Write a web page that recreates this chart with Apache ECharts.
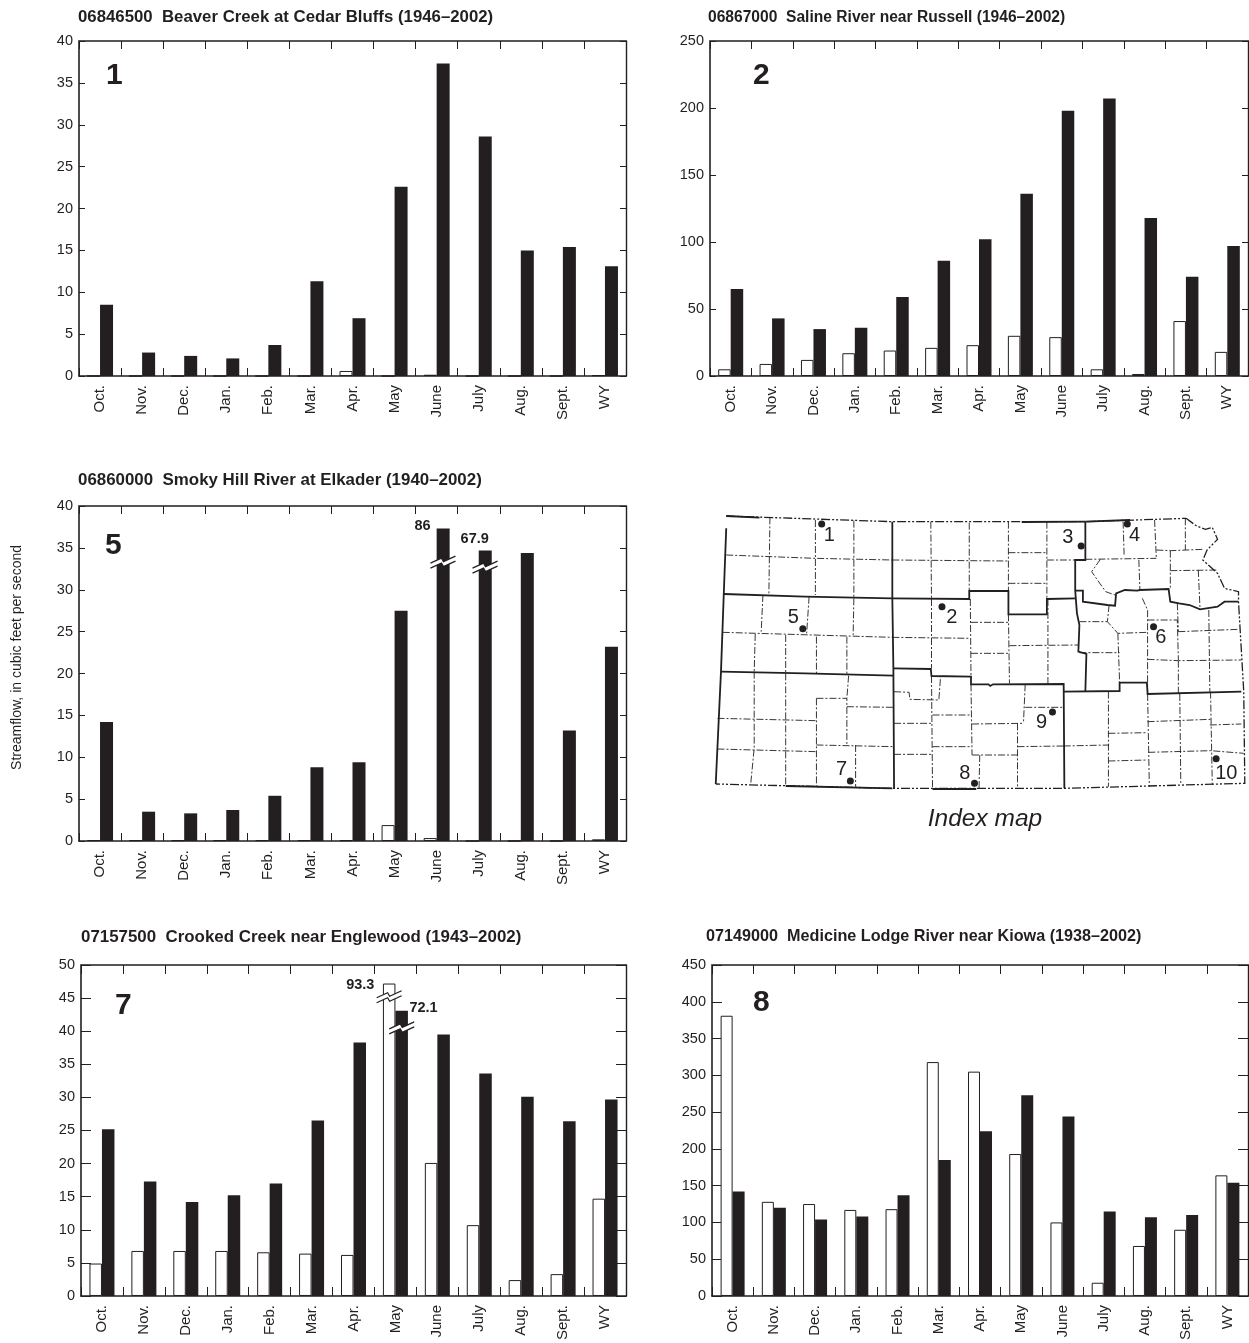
<!DOCTYPE html>
<html><head><meta charset="utf-8">
<script src="https://cdn.jsdelivr.net/npm/echarts@6/dist/echarts.min.js"></script>
<style>html,body{margin:0;padding:0;background:#fff}#c{width:1249px;height:1343px}</style>
</head><body><div id="c"></div>
<script>
const months = ['Oct.','Nov.','Dec.','Jan.','Feb.','Mar.','Apr.','May','June','July','Aug.','Sept.','WY'];
// panel 1: Beaver Creek
const p1White = [0,0,0,0,0,0,0.6,0,0.15,0,0,0,0.1];
const p1Black = [8.5,2.8,2.4,2.1,3.7,11.3,6.9,22.6,37.3,28.6,15,15.4,13.1];
// panel 2: Saline River
const p2White = [5,9,12,17,19,21,23,30,29,5,1.5,41,18];
const p2Black = [65,43,35,36,59,86,102,136,198,207,118,74,97];
// panel 5: Smoky Hill River
const p5White = [0.1,0.1,0.1,0.1,0.1,0.1,0.1,1.9,0.35,0,0,0,0.2];
const p5Black = [14.2,3.5,3.3,3.7,5.4,8.8,9.4,27.5,37.3,34.7,34.4,13.2,23.2];
// panel 7: Crooked Creek
const p7White = [4.9,6.8,6.8,6.8,6.6,6.4,6.2,47.2,20.1,10.7,2.4,3.3,14.7];
const p7Black = [25.2,17.3,14.2,15.2,17,26.5,38.3,43.1,39.5,33.6,30.1,26.4,29.7];
// panel 8: Medicine Lodge River
const p8White = [381,128,125,117,118,318,305,193,100,18,68,90,164];
const p8Black = [142,120,104,108,137,185,224,273,244,115,107,110,154];

// break marks: category index, axis value of the break, axis value of bar top, true-value label
const p5Breaks = [[8,33.3,37.3,'86',-6,-3,'right',1],[9,32.7,34.7,'67.9',-4,-11,'center',1]];
const p7Breaks = [[7,45.2,47.2,'93.3',-21,1,'right',-1],[7,40.5,43.1,'72.1',14,-3,'left',1]];

// index map, in map units
const heavyLines = [
 [[68,282],[300,290],[550,295],[770,297],[770,273],[882,273],[882,343],[992,343],[992,297],[1075,295]],
 [[550,65],[550,295],[553,505],[555,865]],
 [[60,515],[300,520],[553,527]],
 [[553,505],[660,507],[662,528],[775,530],[775,553],[825,553],[830,558],[838,553],[1040,552],[1042,865]],
 [[1040,575],[1200,573],[1200,548],[1278,548],[1280,582],[1548,575]],
 [[1102,65],[1102,180],[1073,180],[1073,272],[1078,340],[1085,375],[1082,455],[1105,462],[1102,575]],
 [[1073,272],[1095,272],[1095,305],[1165,315],[1187,317],[1190,280],[1215,270],[1250,272],[1258,270],[1340,267],[1345,305],[1370,310],[1400,315],[1430,328],[1480,320],[1500,305],[1540,305]],
 [[45,852],[60,515],[68,282],[75,85]],
 [[75,48],[170,53]],[[245,858],[550,865]],[[665,867],[790,867]],[[920,66],[1102,65]],[[1102,65],[1230,60]]
];
const stateLines = [
 [[75,48],[550,65],[1100,65],[1390,55]],
 [[1390,55],[1420,78],[1445,88],[1465,82],[1480,118],[1450,150],[1438,180],[1480,220],[1500,265],[1540,275],[1540,305],[1555,575],[1558,850],[1040,865],[550,865],[45,852]]
];
const countyLines = [
 [[200,52],[197,280]],[[330,60],[330,285]],[[440,62],[440,290]],[[75,165],[330,175],[550,180]],[[550,180],[880,183]],
 [[660,65],[662,295]],[[770,68],[770,273]],[[882,65],[882,273]],[[992,65],[992,297]],[[882,158],[992,158]],[[882,250],[992,250]],
 [[992,180],[1073,180]],[[1210,65],[1213,170]],[[1300,60],[1305,175]],[[1388,55],[1388,150]],[[1102,178],[1305,175]],[[1305,150],[1345,152],[1440,148]],
 [[1345,152],[1345,267]],[[1345,212],[1480,210]],[[1425,210],[1430,328]],[[1145,178],[1120,215],[1160,275],[1187,285]],[[1255,180],[1258,270]],
 [[180,285],[175,395]],[[312,290],[305,400]],[[440,295],[438,405]],[[65,397],[550,412]],[[158,402],[155,515]],[[245,405],[245,520]],[[333,410],[333,522]],[[420,410],[420,525]],
 [[550,412],[770,415]],[[662,297],[662,505]],[[775,367],[882,367]],[[775,460],[882,460]],[[773,297],[775,530]],[[882,343],[885,550]],[[885,437],[1082,435]],[[995,297],[995,550]],
 [[1085,365],[1165,365],[1195,400],[1280,397]],[[1085,458],[1200,458]],[[1170,315],[1165,365]],[[1195,400],[1200,548]],[[1265,295],[1280,330],[1280,580]],[[1280,360],[1365,360],[1368,480]],
 [[1280,478],[1368,482],[1548,480]],[[1368,395],[1540,388]],[[1455,330],[1458,575]],[[1368,482],[1368,580]],[[1365,310],[1368,395]],
 [[155,515],[155,745],[145,852]],[[245,520],[245,855]],[[333,595],[333,860]],[[333,595],[420,595],[420,735]],[[425,527],[420,595]],[[50,655],[333,662]],[[420,620],[553,622]],
 [[50,747],[333,755]],[[333,735],[553,740]],[[445,735],[445,860]],[[555,575],[598,577],[600,598],[683,600],[688,530]],[[555,670],[662,670]],[[665,645],[775,645]],[[662,528],[665,867]],
 [[555,763],[662,763]],[[665,740],[775,740]],[[775,553],[778,765]],[[778,672],[925,670]],[[930,553],[925,670]],[[930,622],[1040,622]],[[908,670],[908,865]],[[908,740],[1040,738]],
 [[778,765],[908,765]],[[800,765],[798,865]],[[1040,738],[1170,735]],[[1168,575],[1168,860]],[[1168,700],[1280,698]],[[1168,783],[1280,780]],[[1280,582],[1285,860]],[[1280,665],[1460,658]],
 [[1458,675],[1548,672]],[[1282,757],[1460,752],[1555,760]],[[1372,582],[1375,855]],[[1460,575],[1465,855]]
];
const gagePoints = [[348,72],[692,320],[1090,138],[1222,72],[294,386],[1297,380],[430,843],[785,850],[1008,636],[1476,776]];
const gageLabels = [[370,105,'1'],[720,352,'2'],[1052,112,'3'],[1243,105,'4'],[267,352,'5'],[1318,413,'6'],[405,808,'7'],[757,820,'8'],[977,668,'9'],[1505,820,'10']];

const INK = '#231f20';
const SANS = '"Liberation Sans",Arial,sans-serif';

const panels = [
 {title:'06846500  Beaver Creek at Cedar Bluffs (1946\u20132002)',tf:16.8,tx:78,ty:8,num:'1',nx:106,ny:60,left:79,top:41,w:547,h:335,max:40,step:5,white:p1White,black:p1Black,bw:13,xt:8,yt:6},
 {title:'06867000  Saline River near Russell (1946\u20132002)',tf:15.6,tx:708,ty:9,num:'2',nx:753,ny:60,left:710,top:41,w:538,h:335,max:250,step:50,white:p2White,black:p2Black,bw:12.5,xt:8,yt:6},
 {title:'06860000  Smoky Hill River at Elkader (1940\u20132002)',tf:16.9,tx:78,ty:471,num:'5',nx:105,ny:530,left:79,top:506,w:547,h:335,max:40,step:5,white:p5White,black:p5Black,bw:13,xt:8,yt:6,breaks:p5Breaks},
 {title:'07157500  Crooked Creek near Englewood (1943\u20132002)',tf:16.9,tx:81,ty:928,num:'7',nx:115,ny:990,left:81,top:965,w:545,h:333,max:50,step:5,white:p7White,black:p7Black,bw:12.5,xt:9,yt:10,breaks:p7Breaks},
 {title:'07149000  Medicine Lodge River near Kiowa (1938\u20132002)',tf:16.2,tx:706,ty:928,num:'8',nx:753,ny:987,left:712,top:965,w:536,h:333,max:450,step:50,white:p8White,black:p8Black,bw:12,xt:9,yt:10}
];

const grid=[],xAxis=[],yAxis=[],series=[],title=[];
function breakRender(params,api){
  const cat=api.value(0),brk=api.value(1),topV=api.value(2),txt=api.value(3),dx=api.value(4),dy=api.value(5),al=api.value(6),side=api.value(7);
  const p=api.coord([cat,brk]),c=api.coord([cat,topV]);
  const cx=p[0]+side*6.3,cy=p[1];
  const L=[[-12.5,3.5],[-1.5,-1.5],[0.5,2],[12.5,-3.5]];
  const top=L.map(q=>[cx+q[0],cy+q[1]-2.5]),bot=L.map(q=>[cx+q[0],cy+q[1]+2.5]);
  return {type:'group',children:[
    {type:'polygon',shape:{points:top.concat(bot.slice().reverse())},style:{fill:'#fff'}},
    {type:'polyline',shape:{points:top},style:{stroke:INK,lineWidth:1.2,fill:null}},
    {type:'polyline',shape:{points:bot},style:{stroke:INK,lineWidth:1.2,fill:null}},
    {type:'text',x:cx-side*6.3+dx,y:c[1]+dy,style:{text:String(txt),fill:INK,font:'bold 14.5px '+SANS,textAlign:al,textVerticalAlign:'middle'}}
  ]};
}
panels.forEach((p,i)=>{
  grid.push({left:p.left,top:p.top,width:p.w,height:p.h,containLabel:false});
  const line={show:true,onZero:false,lineStyle:{color:INK,width:1.6}};
  xAxis.push({gridIndex:i,type:'category',data:months,position:'bottom',axisLine:line,
    axisTick:{show:true,inside:true,length:p.xt,alignWithLabel:false,lineStyle:{color:INK,width:1}},
    axisLabel:{interval:0,rotate:90,margin:9,fontFamily:SANS,fontSize:15,color:INK},splitLine:{show:false}});
  xAxis.push({gridIndex:i,type:'category',data:months,position:'top',axisLine:{show:true,onZero:false,lineStyle:{color:'#555',width:1.8}},
    axisTick:{show:true,inside:true,length:p.xt,lineStyle:{color:INK,width:1}},axisLabel:{show:false},splitLine:{show:false}});
  yAxis.push({gridIndex:i,type:'value',min:0,max:p.max,interval:p.step,position:'left',axisLine:line,
    axisTick:{show:true,inside:true,length:p.yt,lineStyle:{color:INK,width:1}},
    axisLabel:{margin:6,fontFamily:SANS,fontSize:14.5,color:INK},splitLine:{show:false}});
  yAxis.push({gridIndex:i,type:'value',min:0,max:p.max,interval:p.step,position:'right',axisLine:{show:true,onZero:false,lineStyle:{color:INK,width:1.4}},
    axisTick:{show:true,inside:true,length:p.yt,lineStyle:{color:INK,width:1}},axisLabel:{show:false},splitLine:{show:false}});
  const xi=i*2,yi=i*2;
  series.push({type:'bar',xAxisIndex:xi,yAxisIndex:yi,data:p.white,barWidth:p.bw,barGap:'0%',silent:true,animation:false,
    itemStyle:{color:'#fff',borderColor:INK,borderWidth:1}});
  series.push({type:'bar',xAxisIndex:xi,yAxisIndex:yi,data:p.black,barWidth:p.bw,barGap:'0%',silent:true,animation:false,
    itemStyle:{color:INK}});
  if(p.breaks){
    series.push({type:'custom',xAxisIndex:xi,yAxisIndex:yi,data:p.breaks,z:10,silent:true,animation:false,
      encode:{x:0,y:1},clip:false,renderItem:breakRender});
  }
  title.push({text:p.title,left:p.tx,top:p.ty,textStyle:{fontFamily:SANS,fontWeight:'bold',fontSize:p.tf,color:INK,lineHeight:18},padding:0});
  title.push({text:p.num,left:p.nx,top:p.ny,textStyle:{fontFamily:SANS,fontWeight:'bold',fontSize:30,color:INK,lineHeight:32},padding:0});
});
// index map grid
const m=panels.length;
grid.push({left:700,top:500,width:549,height:340,containLabel:false});
xAxis.push({gridIndex:m,type:'value',min:0,max:1570,show:false});
yAxis.push({gridIndex:m,type:'value',min:0,max:1020,inverse:true,show:false});
const mapAxes={xAxisIndex:2*m,yAxisIndex:2*m,coordinateSystem:'cartesian2d',silent:true,animation:false};
series.push(Object.assign({type:'lines',polyline:true,data:countyLines.map(c=>({coords:c})),lineStyle:{color:INK,width:0.9,type:[7,2,2,2],opacity:1}},mapAxes));
series.push(Object.assign({type:'lines',polyline:true,data:stateLines.map(c=>({coords:c})),lineStyle:{color:INK,width:1.3,type:[9,2,2,2,2,2],opacity:1}},mapAxes));
series.push(Object.assign({type:'lines',polyline:true,data:heavyLines.map(c=>({coords:c})),lineStyle:{color:INK,width:1.8,opacity:1}},mapAxes));
series.push(Object.assign({type:'scatter',data:gagePoints,symbol:'circle',symbolSize:7,itemStyle:{color:INK,opacity:1},z:5},mapAxes));
series.push(Object.assign({type:'scatter',data:gageLabels,symbolSize:1,itemStyle:{opacity:1,color:'transparent'},z:6,
  label:{show:true,position:'inside',formatter:d=>d.value[2],fontFamily:SANS,fontSize:20,color:INK,opacity:1}},mapAxes));
title.push({text:'Index map',left:985,top:805,textAlign:'center',textStyle:{fontFamily:SANS,fontStyle:'italic',fontWeight:'normal',fontSize:24.5,color:INK,lineHeight:28},padding:0});

const chart=echarts.init(document.getElementById('c'),null,{renderer:'canvas'});
chart.setOption({animation:false,backgroundColor:'#fff',title,grid,xAxis,yAxis,series,
  graphic:[{type:'text',left:10,top:545,rotation:Math.PI/2,z:20,
    style:{text:'Streamflow, in cubic feet per second',font:'14px '+SANS,fill:INK}}]});
</script></body></html>
